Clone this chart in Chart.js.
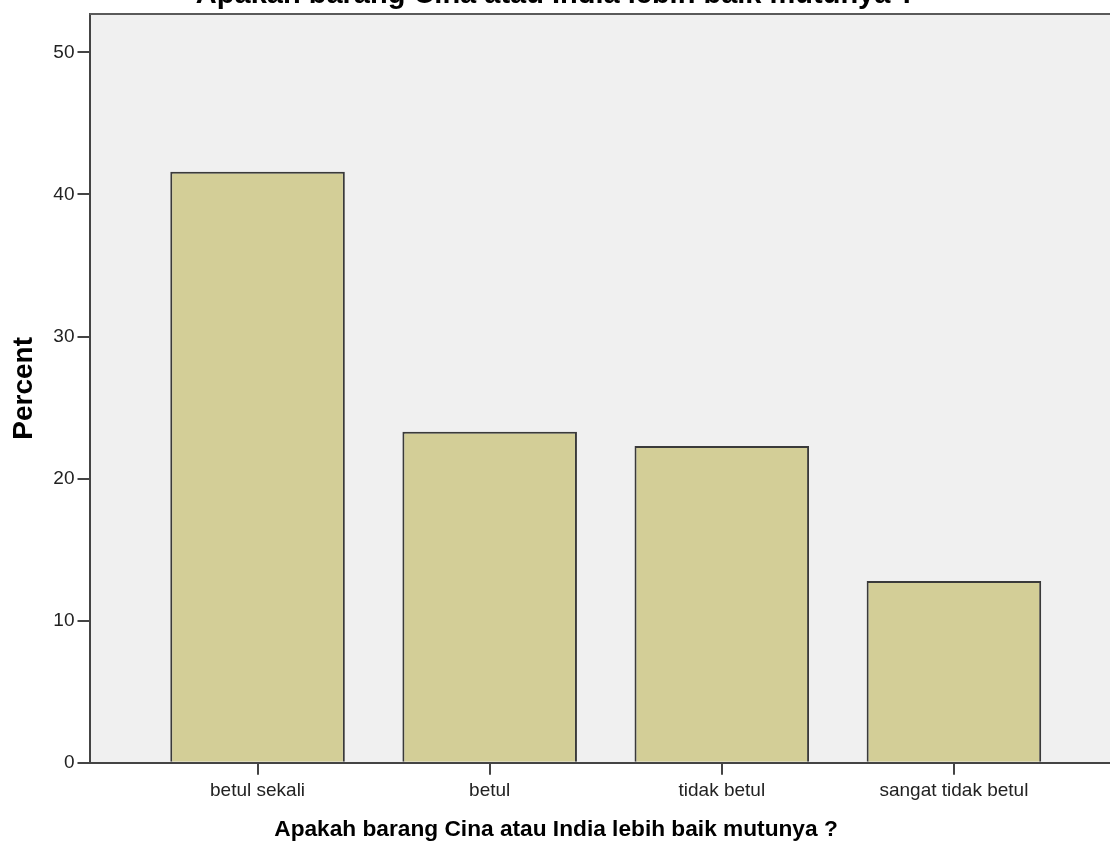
<!DOCTYPE html>
<html>
<head>
<meta charset="utf-8">
<script src="https://cdn.jsdelivr.net/npm/chart.js@4.4.1/dist/chart.umd.min.js"></script>
<style>
  html, body { margin: 0; padding: 0; background: #fff; overflow: hidden; width: 1110px; height: 846px; }
  #wrap { position: absolute; left: 0; top: -22px; width: 1112px; height: 877px; }
  #mutuChart { display: block; }
</style>
</head>
<body>
<div id="wrap"><canvas id="mutuChart" width="1112" height="877"></canvas></div>
<script>
const categories = ['betul sekali', 'betul', 'tidak betul', 'sangat tidak betul'];
const percentValues = [41.6, 23.3, 22.3, 12.8];
const yTickValues = [0, 10, 20, 30, 40, 50];

const chartTitle = 'Apakah barang Cina atau India lebih baik mutunya ?';
const fontFamily = "'Liberation Sans', Arial, sans-serif";
const axisColor = '#444';

// plot background + top frame line (SPSS style)
const plotFrame = {
  id: 'plotFrame',
  beforeDraw(chart) {
    const { ctx, chartArea } = chart;
    ctx.save();
    ctx.fillStyle = '#f0f0f0';
    ctx.fillRect(chartArea.left, chartArea.top, chartArea.right - chartArea.left, chartArea.bottom - chartArea.top);
    ctx.restore();
  },
  afterDraw(chart) {
    const { ctx, chartArea } = chart;
    ctx.save();
    ctx.strokeStyle = '#5a5a5a';
    ctx.lineWidth = 2;
    ctx.beginPath();
    ctx.moveTo(chartArea.left, chartArea.top);
    ctx.lineTo(chartArea.right, chartArea.top);
    ctx.stroke();
    ctx.restore();
  }
};

const ctx = document.getElementById('mutuChart').getContext('2d');
const mutuChart = new Chart(ctx, {
  type: 'bar',
  data: {
    datasets: [{
      label: 'Percent',
      data: categories.map((c, i) => ({ x: i + 1, y: percentValues[i] })),
      backgroundColor: '#d3ce97',
      borderColor: '#3a3a3a',
      borderWidth: 2,
      borderSkipped: 'bottom',
      barPercentage: 0.752,
      categoryPercentage: 1
    }]
  },
  options: {
    responsive: false,
    animation: false,
    layout: { padding: 0 },
    plugins: {
      legend: { display: false },
      tooltip: { enabled: false },
      title: {
        display: true,
        text: chartTitle,
        color: '#000',
        padding: { top: 0, bottom: 1.2 },
        font: { family: fontFamily, size: 29, weight: 'bold' }
      },
      subtitle: {
        display: true,
        position: 'bottom',
        text: chartTitle,
        color: '#000',
        padding: { top: 8.6, bottom: 11.6 },
        font: { family: fontFamily, size: 22.7, weight: 'bold' }
      }
    },
    scales: {
      x: {
        type: 'linear',
        min: 0.276,
        max: 4.681,
        offset: false,
        afterBuildTicks: (axis) => {
          axis.ticks = categories.map((c, i) => ({ value: i + 1 }));
        },
        grid: {
          offset: false,
          drawOnChartArea: false,
          drawTicks: true,
          tickLength: 12,
          color: axisColor,
          lineWidth: 2
        },
        border: { display: true, color: axisColor, width: 2 },
        ticks: {
          padding: 5,
          maxRotation: 0,
          autoSkip: false,
          color: '#222',
          font: { family: fontFamily, size: 19 },
          callback: (v) => categories[v - 1]
        }
      },
      y: {
        min: 0,
        max: 52.7,
        afterBuildTicks: (axis) => {
          axis.ticks = yTickValues.map(v => ({ value: v }));
        },
        afterFit: (scale) => { scale.width = 89.5; },
        grid: {
          drawOnChartArea: false,
          drawTicks: true,
          tickLength: 12,
          color: axisColor,
          lineWidth: 2
        },
        border: { display: true, color: axisColor, width: 2 },
        ticks: {
          padding: 3,
          color: '#222',
          font: { family: fontFamily, size: 19 }
        },
        title: {
          display: true,
          text: 'Percent',
          color: '#000',
          padding: { top: 7.5, bottom: 0 },
          font: { family: fontFamily, size: 28, weight: 'bold' }
        }
      }
    }
  },
  plugins: [plotFrame]
});
</script>
</body>
</html>
